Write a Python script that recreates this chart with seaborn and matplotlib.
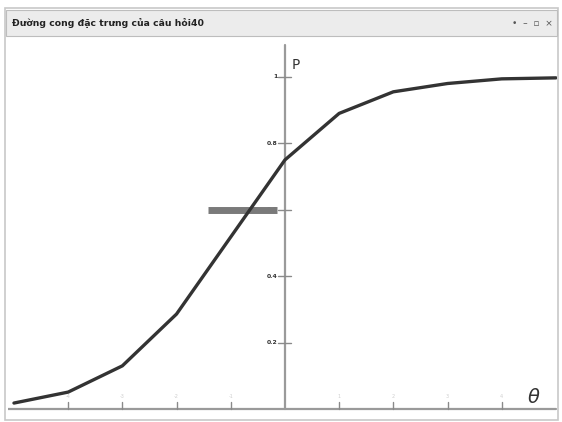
import matplotlib
matplotlib.use("Agg")
import matplotlib.pyplot as plt
import seaborn as sns
import pandas as pd
from matplotlib.patches import Rectangle

# =========================
# DATA
# =========================
theta = [-5, -4, -3, -2, -1, 0, 1, 2, 3, 4, 5]
prob = [0.018, 0.051, 0.13, 0.286, 0.518, 0.75, 0.89, 0.955, 0.98, 0.994, 0.997]
y_ticks = [0.2, 0.4, 0.6, 0.8, 1.0]
y_labels = ["0.2", "0.4", "0.6", "0.8", "1"]
x_ticks = [-4, -3, -2, -1, 1, 2, 3, 4]
title = "Đường cong đặc trưng của câu hỏi40"

# =========================
# SETTINGS
# =========================
sns.set_style("white")
plt.rcParams["font.family"] = ["DejaVu Sans"]

W, H = 562, 422
fig = plt.figure(figsize=(W / 100, H / 100), dpi=100)

# window frame + title bar (figure coords, behind the axes)
frame = Rectangle((5 / W, 1 - 420 / H), 553 / W, 412 / H, transform=fig.transFigure,
                  facecolor="white", edgecolor="#c8c8c8", lw=1.2, zorder=-2)
fig.patches.append(frame)
bar = Rectangle((6 / W, 1 - 36 / H), 551 / W, 26 / H, transform=fig.transFigure,
                facecolor="#ececec", edgecolor="#bdbdbd", lw=0.8, zorder=-1)
fig.patches.append(bar)
fig.text(12 / W, 1 - 23 / H, title, fontsize=6.7, color="#222222", va="center",
         fontweight="bold")
fig.text(553 / W, 1 - 23 / H, "•  –  ▫  ×", fontsize=6.5, color="#555555",
         va="center", ha="right")

# plot area
ax = fig.add_axes([8 / W, 4 / H, 549 / W, 380 / H])
ax.set_xlim(-5.11, 5.02)
ax.set_ylim(-0.027, 1.117)
ax.axis("off")

# axes lines
ax.plot([-5.11, 5.0], [0, 0], color="#9a9a9a", lw=1.6, zorder=1)
ax.plot([0, 0], [0, 1.096], color="#9a9a9a", lw=1.6, zorder=1)

# y ticks
for yt, lab in zip(y_ticks, y_labels):
    ax.plot([-0.12, 0.12], [yt, yt], color="#8a8a8a", lw=1.0, zorder=1)
    ax.text(-0.14, yt, lab, fontsize=4.4, ha="right", va="center", color="#333333",
            fontweight="bold", zorder=1)

# x ticks
for xt in x_ticks:
    ax.plot([xt, xt], [0, 0.02], color="#8a8a8a", lw=1.0, zorder=1)
    ax.text(xt, 0.03, str(xt), fontsize=3.5, ha="center", va="bottom", color="#cfcfcf")

# highlighted label bar at 0.6
ax.plot([-1.42, -0.15], [0.6, 0.6], color="#7a7a7a", lw=5, solid_capstyle="butt", zorder=2)

# curve
df = pd.DataFrame({"theta": theta, "P": prob})
sns.lineplot(data=df, x="theta", y="P", ax=ax, color="#333333", lw=2.4, zorder=3)

ax.text(0.12, 1.036, "P", fontsize=10, family="DejaVu Sans Mono", color="#333333",
        va="center", ha="left")
ax.text(4.6, 0.035, r"$\theta$", fontsize=14, color="#333333", va="center", ha="center")

fig.savefig("out.png", dpi=100)
